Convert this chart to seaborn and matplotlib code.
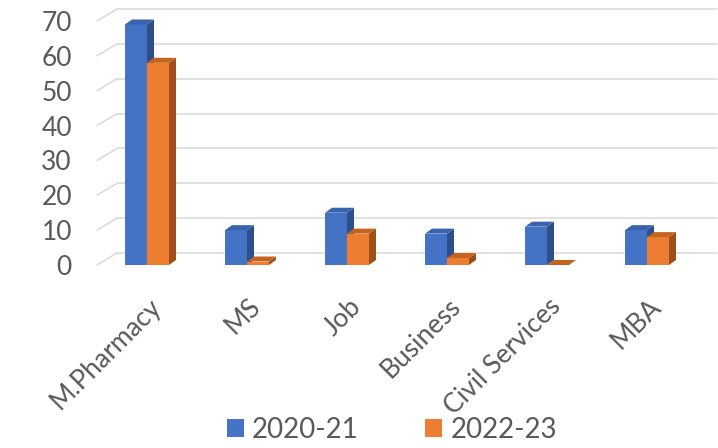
import matplotlib.pyplot as plt
import matplotlib.transforms as mtransforms
from matplotlib.patches import Polygon, Patch, ConnectionPatch
import pandas as pd
import seaborn as sns

# --- datos ---
careers = ["M.Pharmacy", "MS", "Job", "Business", "Civil Services", "MBA"]
batch_2020_21 = [69, 10, 15, 9, 11, 10]
batch_2022_23 = [58, 1, 9, 2, 0, 8]
batches = ["2020-21", "2022-23"]
y_ticks = [0, 10, 20, 30, 40, 50, 60, 70]

df = pd.DataFrame({
    "career": careers * 2,
    "students": batch_2020_21 + batch_2022_23,
    "batch": [batches[0]] * len(careers) + [batches[1]] * len(careers),
})

# --- estilo ---
front_colors = ["#4472C4", "#ED7D31"]
side_colors = ["#2E4F8C", "#A04F1A"]
top_colors = ["#3A63AD", "#C5641F"]
text_color = "#595959"
grid_color = "#D9D9D9"

sns.set_theme(style="white")
plt.rcParams["font.family"] = ["Lato", "DejaVu Sans"]

DPI = 100
fig = plt.figure(figsize=(7.18, 4.48), dpi=DPI)
# plano frontal del "3D": 0 en y=265 px, 70 en y=21 px
ax = fig.add_axes([97 / 718, 183 / 448, 600 / 718, 244 / 448])

sns.barplot(data=df, x="career", y="students", hue="batch", order=careers,
            hue_order=batches, palette=front_colors, saturation=1,
            width=0.44, dodge=True, edgecolor="none", legend=False, ax=ax)
ax.set_xlim(-0.5, len(careers) - 0.5)
ax.set_ylim(0, 70)
ax.set_yticks(y_ticks)
ax.set_xlabel("")
ax.set_ylabel("")
sns.despine(ax=ax, left=True, bottom=True)

# pared del fondo: rejilla desplazada arriba-derecha
back = ax.transData + mtransforms.ScaledTranslation(20 / DPI, 12 / DPI, fig.dpi_scale_trans)
x0, x1 = ax.get_xlim()
for yv in y_ticks:
    ax.plot([x0, x1], [yv, yv], color=grid_color, lw=1.1, transform=back,
            clip_on=False, zorder=0.5)
    con = ConnectionPatch(xyA=(x0, yv), coordsA=ax.transData,
                          xyB=(x0, yv), coordsB=back,
                          color=grid_color, lw=1.1, zorder=0.5)
    fig.add_artist(con)

# profundidad de cada barra (caras lateral y superior)
dx = 7 / 100                 # 100 px por categoría
dy = 5 / (244 / 70)          # px -> unidades de datos
for k, container in enumerate(ax.containers):
    for bar in container:
        bar.set_zorder(2 + k)
        x, w, h = bar.get_x(), bar.get_width(), bar.get_height()
        side = Polygon([(x + w, 0), (x + w + dx, dy), (x + w + dx, h + dy), (x + w, h)],
                       closed=True, facecolor=side_colors[k], edgecolor="none",
                       zorder=2.5 + k, clip_on=False)
        top = Polygon([(x, h), (x + w, h), (x + w + dx, h + dy), (x + dx, h + dy)],
                      closed=True, facecolor=top_colors[k], edgecolor="none",
                      zorder=2.5 + k, clip_on=False)
        ax.add_patch(side)
        ax.add_patch(top)

# ejes / etiquetas
ax.tick_params(axis="y", length=0, pad=18, labelsize=19, labelcolor=text_color)
ax.tick_params(axis="x", length=0, pad=27, labelsize=19, labelcolor=text_color)
shift = mtransforms.ScaledTranslation(10 / DPI, 0, fig.dpi_scale_trans)
for lab in ax.get_xticklabels():
    lab.set_rotation(45)
    lab.set_rotation_mode("anchor")
    lab.set_ha("right")
    lab.set_va("center")
    lab.set_transform(lab.get_transform() + shift)

handles = [Patch(facecolor=c, edgecolor="none") for c in front_colors]
fig.legend(handles, batches, loc="center", bbox_to_anchor=(392 / 718, 1 - 430 / 448),
           ncol=2, frameon=False, fontsize=20, labelcolor=text_color,
           handlelength=0.6, handleheight=0.6, handletextpad=0.3, columnspacing=2.4)

fig.savefig("out.png", dpi=DPI, facecolor="white")
